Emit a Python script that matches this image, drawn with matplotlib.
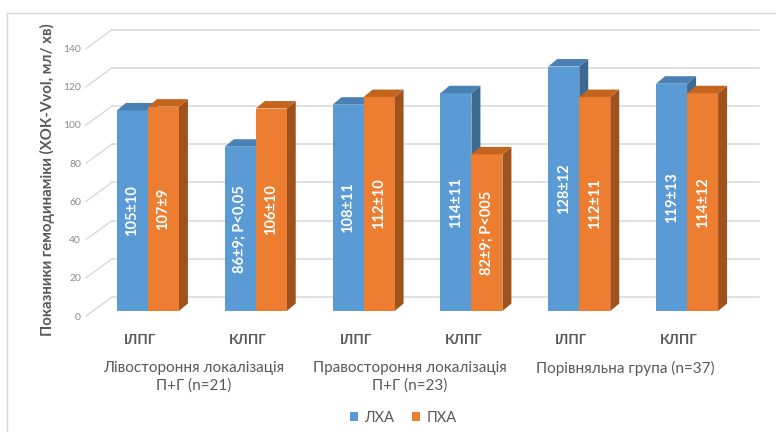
import matplotlib
matplotlib.use("Agg")
import matplotlib.pyplot as plt
from matplotlib.patches import Polygon, Patch
from matplotlib.lines import Line2D
import numpy as np

plt.rcParams['font.family'] = ['Lato', 'Noto Sans', 'DejaVu Sans']

# ---- data ----
subgroups = ["ІЛПГ", "КЛПГ", "ІЛПГ", "КЛПГ", "ІЛПГ", "КЛПГ"]
groups = ["Лівостороння локалізація\nП+Г (n=21)",
          "Правостороння локалізація\nП+Г (n=23)",
          "Порівняльна група (n=37)"]
series_names = ["ЛХА", "ПХА"]
lha = [105, 86, 108, 114, 128, 119]
pxa = [107, 106, 112, 82, 112, 114]
lha_labels = ["105±10", "86±9; P<0,05", "108±11", "114±11", "128±12", "119±13"]
pxa_labels = ["107±9", "106±10", "112±10", "82±9; P<005", "112±11", "114±12"]
yticks = [0, 20, 40, 60, 80, 100, 120, 140]

# ---- styling ----
W, H = 776, 432
front_cols = ["#5B9BD5", "#ED7D31"]
top_cols = ["#4A80B3", "#C4651F"]
side_cols = ["#3C6891", "#A0521D"]
text_col = "#595959"
grid_col = "#D9D9D9"

fig = plt.figure(figsize=(W / 100, H / 100), dpi=100)
fig.patch.set_facecolor("white")

ax_l, ax_r, ax_b, ax_t = 94, 741, 121, 407.5
ax = fig.add_axes([ax_l / W, ax_b / H, (ax_r - ax_l) / W, (ax_t - ax_b) / H])
ax.set_xlim(-0.5, 5.5)
ax.set_ylim(0, 150)
ax.axis("off")

# pixels per data unit
px_x = (ax_r - ax_l) / 6.0
px_y = (ax_t - ax_b) / 150.0

# back wall offset and bar depth (pixels)
wall_dx, wall_dy = 18, 14
bar_dx, bar_dy = 9, 7.5
ddx, ddy = bar_dx / px_x, bar_dy / px_y
wdx, wdy = wall_dx / px_x, wall_dy / px_y

# back wall gridlines and tick connectors
for v in yticks:
    ax.plot([-0.5 + wdx, 5.5 + wdx], [v + wdy, v + wdy], color=grid_col,
            lw=1.1, clip_on=False, zorder=0)
    ax.plot([-0.5 - 8 / px_x, -0.5 + wdx], [v - 5 / px_y, v + wdy],
            color=grid_col, lw=1.0, clip_on=False, zorder=0)
    ax.text(-0.5 - 13 / px_x, v - 6 / px_y, str(v), ha="right", va="center",
            fontsize=7.5, color="#8C8C8C", clip_on=False)

x = np.arange(len(subgroups))
w = 31 / px_x


def draw_bar(xc, val, k, label):
    x0, x1 = xc - w / 2, xc + w / 2
    ax.bar(xc, val, width=w, color=front_cols[k], zorder=3 + 3 * k,
           edgecolor="none")
    top = Polygon([(x0, val), (x1, val), (x1 + ddx, val + ddy),
                   (x0 + ddx, val + ddy)], closed=True,
                  facecolor=top_cols[k], edgecolor="none", zorder=4 + 3 * k,
                  clip_on=False)
    side = Polygon([(x1, 0), (x1 + ddx, ddy), (x1 + ddx, val + ddy),
                    (x1, val)], closed=True, facecolor=side_cols[k],
                   edgecolor="none", zorder=2 + 3 * k, clip_on=False)
    ax.add_patch(top)
    ax.add_patch(side)
    ax.text(xc, val / 2, label, rotation=90, ha="center", va="center",
            color="white", fontsize=10.5, fontweight="bold", zorder=10)


for i in x:
    draw_bar(i - w / 2, lha[i], 0, lha_labels[i])
    draw_bar(i + w / 2, pxa[i], 1, pxa_labels[i])

# category labels
lab_off = -8 / px_x
for i, s in enumerate(subgroups):
    ax.text(i + lab_off, 0 - 29 / px_y, s, ha="center", va="center",
            fontsize=10, fontweight="bold", color=text_col, clip_on=False)
for g, s in enumerate(groups):
    xc = 2 * g + 0.5 + lab_off
    ax.text(xc, 0 - 50 / px_y, s, ha="center", va="top", fontsize=11,
            color=text_col, linespacing=1.3, clip_on=False)

# y axis title
fig.text(47 / W, 1 - 180 / H, "Показники гемодинаміки (ХОК-Vvol, мл/ хв)",
         rotation=90, ha="center", va="center", fontsize=10.8,
         fontweight="bold", color=text_col)

# legend
handles = [Patch(facecolor=front_cols[0], label=series_names[0]),
           Patch(facecolor=front_cols[1], label=series_names[1])]
fig.legend(handles=handles, loc="center", ncol=2,
           bbox_to_anchor=(403 / W, 1 - 418 / H), frameon=False,
           fontsize=10.5, handlelength=0.6, handleheight=0.6,
           handletextpad=0.4, columnspacing=1.2, labelcolor=text_col)

# chart frame
fig.add_artist(Line2D([7 / W, 1], [1 - 13 / H, 1 - 13 / H],
                      transform=fig.transFigure, color=grid_col, lw=1))
fig.add_artist(Line2D([7 / W, 7 / W], [0, 1 - 13 / H],
                      transform=fig.transFigure, color=grid_col, lw=1))

fig.savefig("out.png", dpi=100, facecolor="white")
